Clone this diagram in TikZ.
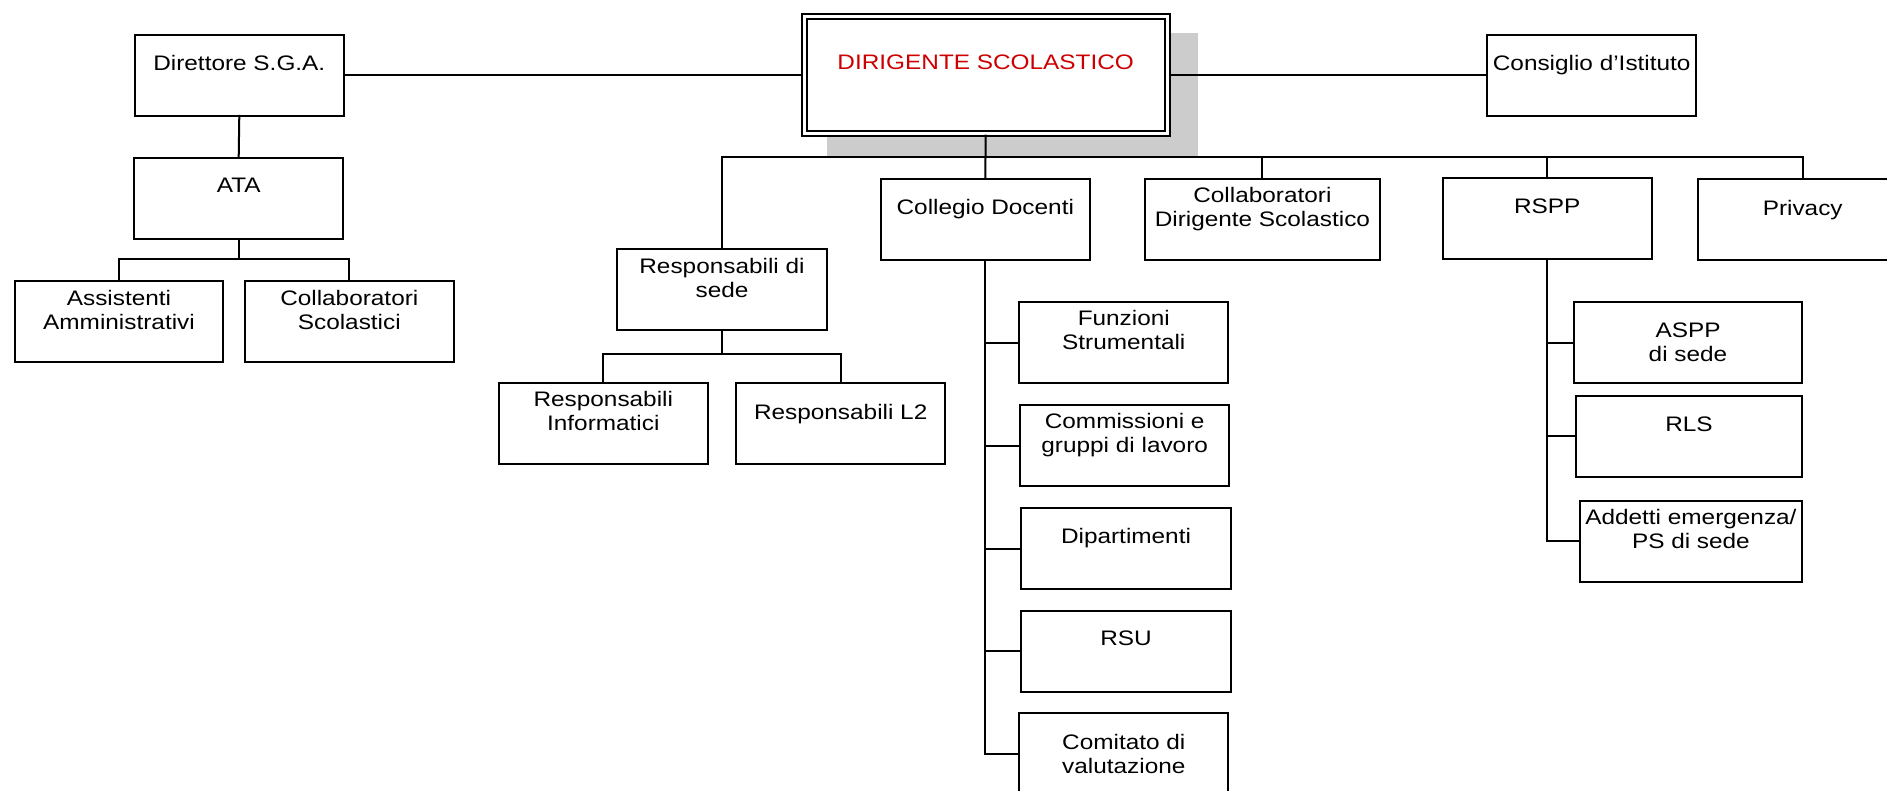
\documentclass[tikz,border=0pt]{standalone}
\usepackage{fontspec}
\setmainfont{Liberation Sans}[FakeStretch=1.16]
\definecolor{dsred}{RGB}{204,0,0}
\definecolor{shadowgray}{RGB}{204,204,204}
\begin{document}
\begin{tikzpicture}[x=1pt,y=-1pt,
  box/.style={draw, line width=2pt, fill=white, outer sep=0pt, inner sep=0pt, minimum height=81pt},
  lbl/.style={anchor=north, inner sep=0pt, align=center, font=\fontsize{21}{24}\selectfont},
  wire/.style={line width=2pt, line cap=rect}]
\useasboundingbox (0,0) rectangle (1887,790);
\clip (0,0) rectangle (1887,790);
% shadow of the head box
\fill[shadowgray] (826.7,32.7) rectangle (1197.7,156);
% boxes
\node[box, minimum width=368pt, minimum height=121.4pt] (ds) at (985.7,75) {};
\draw[line width=2pt] ([shift={(5,5)}]ds.north west) rectangle ([shift={(-5,-5)}]ds.south east);
\node[box, minimum width=209.3pt] (dir)  at (239.3,75.3) {};
\node[box, minimum width=209.3pt] (ata)  at (238.7,198) {};
\node[box, minimum width=208.6pt] (ass)  at (119,321.7) {};
\node[box, minimum width=209.3pt] (cs)   at (349.3,321.7) {};
\node[box, minimum width=209.3pt] (cons) at (1591.7,75) {};
\node[box, minimum width=209.4pt] (rds)  at (722,289.7) {};
\node[box, minimum width=209.3pt] (rinf) at (603.3,423.5) {};
\node[box, minimum width=209.3pt] (rl2)  at (840.7,423.7) {};
\node[box, minimum width=208.7pt] (cd)   at (985.3,219) {};
\node[box, minimum width=235.2pt] (cds)  at (1262.4,219) {};
\node[box, minimum width=209pt]   (rspp) at (1547.2,218.8) {};
\node[box, minimum width=209pt]   (priv) at (1802.7,219.8) {};
\node[box, minimum width=209pt]   (fs)   at (1123.8,342.5) {};
\node[box, minimum width=209.3pt] (comm) at (1124.7,445.5) {};
\node[box, minimum width=209.4pt] (dip)  at (1126,548.5) {};
\node[box, minimum width=209.4pt] (rsu)  at (1126,651) {};
\node[box, minimum width=209pt]   (com)  at (1123.8,753.7) {};
\node[box, minimum width=227.4pt] (aspp) at (1688,342.5) {};
\node[box, minimum width=225.4pt] (rls)  at (1689,436.2) {};
\node[box, minimum width=221.7pt] (add)  at (1690.9,541.3) {};
% connectors
\coordinate (busy) at (0,157);
\draw[wire] (dir.east) -- (dir.east -| ds.west);
\draw[wire] (ds.east) -- (ds.east -| cons.west);
\draw[wire] (dir.south) -- (ata.north);
\draw[wire] (ata.south) -- ++(0,20) coordinate (atab);
\draw[wire] (ass.north) |- (atab) -| (cs.north);
\draw[wire] (ds.south) -- (cd.north);
\draw[wire] (rds.north |- busy) -- (priv.north |- busy);
\foreach \n in {rds,cds,rspp,priv} \draw[wire] (\n.north) -- (\n.north |- busy);
\draw[wire] (rds.south) -- ++(0,24) coordinate (rdsb);
\draw[wire] (rinf.north) |- (rdsb) -| (rl2.north);
\foreach \n in {fs,comm,dip,rsu,com} \draw[wire] (cd.south) |- (\n.west);
\foreach \n in {aspp,rls,add} \draw[wire] (rspp.south) |- (\n.west);
% texts
\node[lbl, text=dsred] at ([yshift=-40pt]ds.north) {DIRIGENTE SCOLASTICO};
\node[lbl] at ([yshift=-20.5pt]dir.north) {Direttore S.G.A.};
\node[lbl] at ([yshift=-20.5pt]ata.north) {ATA};
\node[lbl] at ([yshift=-8.5pt]ass.north) {Assistenti\\Amministrativi};
\node[lbl] at ([yshift=-8.5pt]cs.north) {Collaboratori\\Scolastici};
\node[lbl] at ([yshift=-20.5pt]cons.north) {Consiglio d’Istituto};
\node[lbl] at ([yshift=-8.5pt]rds.north) {Responsabili di\\sede};
\node[lbl] at ([yshift=-8.5pt]rinf.north) {Responsabili\\Informatici};
\node[lbl] at ([yshift=-20.5pt]rl2.north) {Responsabili L2};
\node[lbl] at ([yshift=-20.5pt]cd.north) {Collegio Docenti};
\node[lbl] at ([yshift=-8.5pt]cds.north) {Collaboratori\\Dirigente Scolastico};
\node[lbl] at ([yshift=-20.5pt]rspp.north) {RSPP};
\node[lbl] at ([yshift=-20.5pt]priv.north) {Privacy};
\node[lbl] at ([yshift=-8.5pt]fs.north) {Funzioni\\Strumentali};
\node[lbl] at ([yshift=-8.5pt]comm.north) {Commissioni e\\gruppi di lavoro};
\node[lbl] at ([yshift=-20.5pt]dip.north) {Dipartimenti};
\node[lbl] at ([yshift=-20.5pt]rsu.north) {RSU};
\node[lbl] at ([yshift=-20.5pt]com.north) {Comitato di\\valutazione};
\node[lbl] at ([yshift=-20.5pt]aspp.north) {ASPP\\ di sede};
\node[lbl] at ([yshift=-20.5pt]rls.north) {RLS};
\node[lbl] at ([yshift=-8.5pt]add.north) {Addetti emergenza/\\PS di sede};
\end{tikzpicture}
\end{document}
